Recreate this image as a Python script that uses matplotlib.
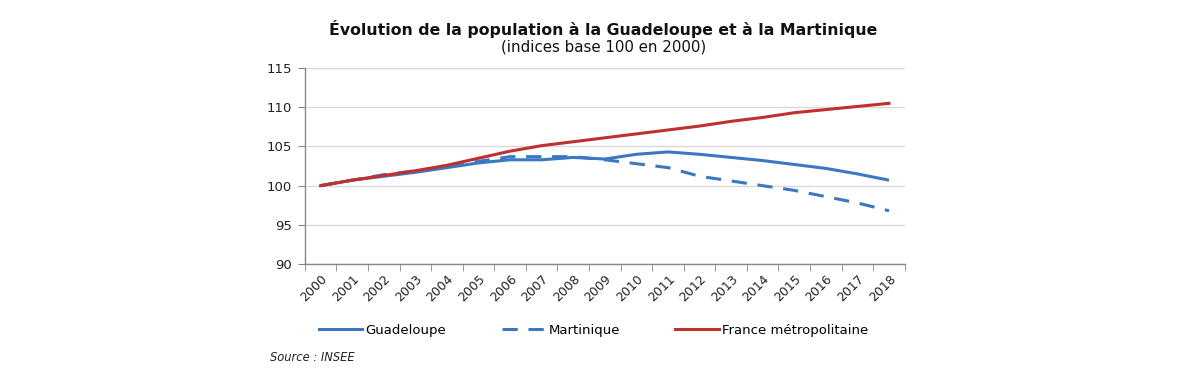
import matplotlib
matplotlib.use("Agg")
import matplotlib.pyplot as plt
from matplotlib.lines import Line2D

years = [str(y) for y in range(2000, 2019)]
guadeloupe = [100.0, 100.7, 101.2, 101.7, 102.3, 102.9, 103.3, 103.3, 103.6, 103.4,
              104.0, 104.3, 104.0, 103.6, 103.2, 102.7, 102.2, 101.5, 100.7]
martinique = [100.0, 100.7, 101.4, 101.9, 102.4, 103.1, 103.7, 103.7, 103.7, 103.3,
              102.8, 102.3, 101.2, 100.6, 100.0, 99.4, 98.6, 97.8, 96.8]
france = [100.0, 100.7, 101.3, 101.9, 102.6, 103.5, 104.4, 105.1, 105.6, 106.1,
          106.6, 107.1, 107.6, 108.2, 108.7, 109.3, 109.7, 110.1, 110.5]
yticks = [90, 95, 100, 105, 110, 115]

blue = "#3b78c2"
red = "#c0302c"

plt.rcParams['font.family'] = ['DejaVu Sans']
fig = plt.figure(figsize=(12, 3.8), dpi=100)
ax = fig.add_axes([0.254, 0.305, 0.5, 0.516])

x = list(range(len(years)))
ax.plot(x, guadeloupe, color=blue, lw=2.2, solid_capstyle='butt')
ax.plot(x, martinique, color=blue, lw=2.2, dashes=(5, 3.5))
ax.plot(x, france, color=red, lw=2.2)

ax.set_xlim(-0.5, len(years) - 0.5)
ax.set_ylim(90, 115)
ax.set_yticks(yticks)
ax.set_yticklabels([str(v) for v in yticks], fontsize=9.5, color="#222222")
ax.yaxis.grid(True, color="#d9d9d9", lw=1)
ax.set_axisbelow(True)

ax.set_xticks(x)
ax.set_xticklabels(years, rotation=45, ha='right', rotation_mode='anchor', fontsize=9, color="#222222")
ax.tick_params(axis='x', length=0, pad=6)
ax.set_xticks([i - 0.5 for i in range(len(years) + 1)], minor=True)
ax.tick_params(axis='x', which='minor', length=5, color="#888888")
ax.tick_params(axis='y', length=5, color="#888888", pad=4)

for s in ['top', 'right']:
    ax.spines[s].set_visible(False)
for s in ['left', 'bottom']:
    ax.spines[s].set_color("#888888")
    ax.spines[s].set_linewidth(1)

fig.text(0.503, 0.925, "Évolution de la population à la Guadeloupe et à la Martinique",
         ha='center', va='center', fontsize=11.3, fontweight='bold', color="#111111")
fig.text(0.503, 0.876, "(indices base 100 en 2000)", ha='center', va='center',
         fontsize=10.8, color="#111111")

handles = [Line2D([], [], color=blue, lw=2.2),
           Line2D([], [], color=blue, lw=2.2, dashes=(5, 3.5)),
           Line2D([], [], color=red, lw=2.2)]
labels = ["Guadeloupe", "Martinique", "France métropolitaine"]
fig.legend(handles, labels, loc='center', bbox_to_anchor=(0.4946, 0.13), ncol=3,
           frameon=False, fontsize=9.5, handlelength=3.3, columnspacing=4.2,
           handletextpad=0.25, borderpad=0, borderaxespad=0)

fig.text(0.225, 0.06, "Source : INSEE", ha='left', va='center', fontsize=8.3,
         style='italic', color="#222222")

fig.savefig("out.png", dpi=100, facecolor='white')
